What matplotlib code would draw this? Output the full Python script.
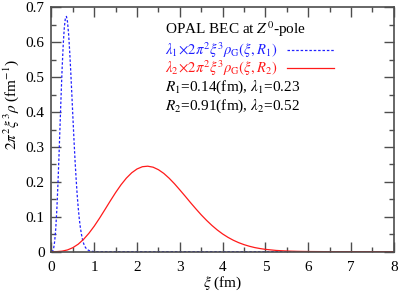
import matplotlib
matplotlib.use("Agg")
import matplotlib.pyplot as plt
from matplotlib.ticker import MultipleLocator, FuncFormatter

plt.rcParams['font.family'] = ['Liberation Serif', 'DejaVu Serif']
plt.rcParams['mathtext.fontset'] = 'stix'

# values
xi_blue = [0, 0.025, 0.05, 0.075, 0.1, 0.125, 0.15, 0.175, 0.2, 0.225, 0.25,
           0.275, 0.3, 0.325, 0.35, 0.375, 0.4, 0.425, 0.45, 0.475, 0.5, 0.525,
           0.55, 0.575, 0.6, 0.625, 0.65, 0.675, 0.7, 0.725, 0.75, 0.775, 0.8,
           0.825, 0.85, 0.9, 1.0, 8.0]
rho_blue = [0, 0.0012, 0.009, 0.0295, 0.066, 0.120, 0.190, 0.272, 0.360, 0.448,
            0.528, 0.594, 0.642, 0.669, 0.674, 0.658, 0.624, 0.575, 0.517, 0.453,
            0.387, 0.323, 0.263, 0.211, 0.164, 0.126, 0.094, 0.069, 0.050, 0.035,
            0.024, 0.016, 0.011, 0.0075, 0.005, 0.002, 0, 0]

xi_red = [0, 0.125, 0.25, 0.375, 0.5, 0.625, 0.75, 0.875, 1.0, 1.125, 1.25,
          1.375, 1.5, 1.625, 1.75, 1.875, 2.0, 2.125, 2.25, 2.375, 2.5, 2.625,
          2.75, 2.875, 3.0, 3.125, 3.25, 3.375, 3.5, 3.625, 3.75, 3.875, 4.0,
          4.125, 4.25, 4.375, 4.5, 4.625, 4.75, 4.875, 5.0, 5.25, 5.5, 5.75,
          6.0, 6.5, 8.0]
rho_red = [0, 0.0002, 0.0015, 0.0050, 0.0115, 0.0215, 0.0353, 0.0527, 0.0732,
           0.0962, 0.1207, 0.1455, 0.1695, 0.1916, 0.2107, 0.2260, 0.2370, 0.2434,
           0.2449, 0.2420, 0.2348, 0.2242, 0.2104, 0.1945, 0.1769, 0.1589, 0.1404,
           0.1226, 0.1054, 0.0896, 0.0751, 0.0621, 0.0507, 0.0410, 0.0327, 0.0258,
           0.0201, 0.0155, 0.0117, 0.0089, 0.0066, 0.0035, 0.0018, 0.0009, 0.0004,
           0, 0]

fig = plt.figure(figsize=(3.99, 2.94), dpi=100)
ax = fig.add_axes([0.129, 0.144, 0.858, 0.831])

ax.plot(xi_blue, rho_blue, color='#2020ff', lw=0.9, ls=(0, (2, 1.5)),
        label=r'$\lambda_1\!\times\!2\pi^2\xi^3\rho_{\mathrm{G}}(\xi,R_1)$')
ax.plot(xi_red, rho_red, color='#ff1a1a', lw=0.9,
        label=r'$\lambda_2\!\times\!2\pi^2\xi^3\rho_{\mathrm{G}}(\xi,R_2)$')

ax.set_xlim(0, 8)
ax.set_ylim(0, 0.7)
ax.xaxis.set_major_locator(MultipleLocator(1))
ax.xaxis.set_minor_locator(MultipleLocator(0.5))
ax.yaxis.set_major_locator(MultipleLocator(0.1))
ax.yaxis.set_minor_locator(MultipleLocator(0.05))
ax.yaxis.set_major_formatter(FuncFormatter(
    lambda v, p: '0' if abs(v) < 1e-9 else '%.1f' % v))
ax.tick_params(which='both', direction='in', top=True, right=True,
               color='0.3', width=1.0, labelsize=11)
ax.tick_params(axis='x', pad=7)
ax.tick_params(axis='y', pad=5)
ax.tick_params(which='major', length=7)
ax.tick_params(which='minor', length=3.5)
for s in ax.spines.values():
    s.set_color('0.3')
    s.set_linewidth(1.2)

ax.set_xlabel(r'$\xi$ (fm)', fontsize=11, labelpad=0)
ax.set_ylabel(r'$2\pi^2\xi^3\rho$ (fm$^{-1}$)', fontsize=11)
ax.yaxis.set_label_coords(-0.09, 0.6)

ax.text(0.332, 0.912, r'OPAL BEC at $Z^0$-pole', transform=ax.transAxes,
        fontsize=11, va='center')
leg = ax.legend(loc='upper left', bbox_to_anchor=(0.31, 0.893), frameon=False,
                markerfirst=False, fontsize=10.5, handlelength=3.2,
                handletextpad=0.7, labelspacing=-0.12, borderpad=0.0)
for t, c in zip(leg.get_texts(), ['#2020ff', '#ff1a1a']):
    t.set_color(c)
ax.text(0.332, 0.674, r'$R_1$=0.14(fm), $\lambda_1$=0.23', transform=ax.transAxes,
        fontsize=11, va='center')
ax.text(0.332, 0.596, r'$R_2$=0.91(fm), $\lambda_2$=0.52', transform=ax.transAxes,
        fontsize=11, va='center')

fig.savefig('out.png', dpi=100)
